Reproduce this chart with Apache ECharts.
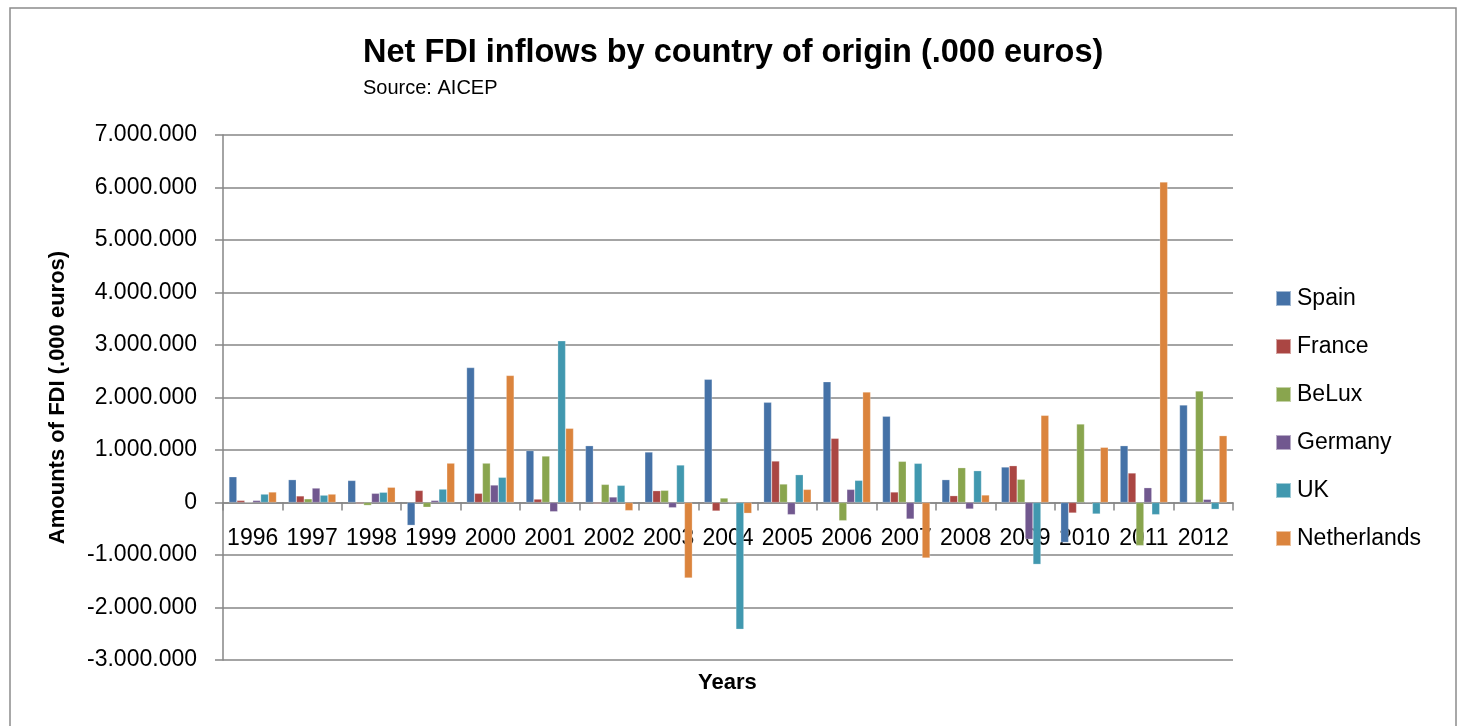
<!DOCTYPE html>
<html>
<head>
<meta charset="utf-8">
<script src="https://cdn.jsdelivr.net/npm/echarts@6/dist/echarts.min.js"></script>
<style>
html,body{margin:0;padding:0;background:#fff;}
#chart{width:1466px;height:726px;}
</style>
</head>
<body>
<div id="chart"></div>
<script>
var years = ['1996','1997','1998','1999','2000','2001','2002','2003','2004','2005','2006','2007','2008','2009','2010','2011','2012'];
var spain = [490000, 435000, 420000, -435000, 2570000, 990000, 1082000, 962000, 2347000, 1908000, 2300000, 1642000, 435000, 676000, -760000, 1082000, 1857000];
var france = [40000, 125000, -20000, 230000, 175000, 65000, -20000, 225000, -162000, 790000, 1222000, 200000, 130000, 701000, -200000, 562000, 0];
var belux = [0, 70000, -55000, -90000, 750000, 885000, 345000, 232000, 85000, 352000, -347000, 784000, 663000, 442000, 1495000, -822000, 2124000];
var germany = [40000, 275000, 175000, 40000, 333000, -175000, 105000, -100000, -10000, -232000, 250000, -315000, -124000, -700000, 10000, 282000, 60000];
var uk = [160000, 140000, 195000, 255000, 480000, 3080000, 327000, 714000, -2415000, 530000, 422000, 746000, 606000, -1178000, -219000, -232000, -130000];
var netherlands = [200000, 160000, 290000, 750000, 2420000, 1413000, -155000, -1438000, -206000, 250000, 2105000, -1057000, 143000, 1660000, 1051000, 6105000, 1273000];

var seriesNames = ['Spain','France','BeLux','Germany','UK','Netherlands'];
var seriesData = [spain, france, belux, germany, uk, netherlands];
var colors = ['#4572A7','#AA4643','#89A54E','#71588F','#4198AF','#DB843D'];

function fmt(v){
  var neg = v < 0; var s = String(Math.abs(v));
  s = s.replace(/\B(?=(\d{3})+(?!\d))/g, '.');
  return (neg ? '-' : '') + s;
}

var FONT = '"Liberation Sans", Arial, sans-serif';
var chart = echarts.init(document.getElementById('chart'));
chart.setOption({
  animation: false,
  backgroundColor: '#fff',
  color: colors,
  textStyle: {fontFamily: FONT},
  title: {
    text: 'Net FDI inflows by country of origin (.000 euros)',
    subtext: 'Source: AICEP',
    left: 358, top: 32, itemGap: 8,
    textStyle: {fontFamily: FONT, fontSize: 32.5, fontWeight: 'bold', color: '#000'},
    subtextStyle: {fontFamily: FONT, fontSize: 20, color: '#000'}
  },
  graphic: [{
    type: 'rect', shape: {x: 10, y: 8, width: 1446, height: 740},
    style: {fill: 'none', stroke: '#8c8c8c', lineWidth: 1.5}, silent: true, z: 0
  }, {
    type: 'text', left: 698, top: 672,
    style: {text: 'Years', font: 'bold 22px "Liberation Sans", Arial, sans-serif', fill: '#000'},
    silent: true
  }],
  legend: {
    orient: 'vertical', left: 1275, top: 287, padding: 0,
    itemWidth: 15, itemHeight: 15, itemGap: 25,
    icon: 'rect',
    textStyle: {fontFamily: FONT, fontSize: 23, color: '#000', padding: [0,0,0,1]},
    data: seriesNames
  },
  grid: {left: 223, right: 233, top: 135, bottom: 66, containLabel: false, outerBoundsMode: 'none'},
  xAxis: {
    type: 'category', data: years, z: 0,
    axisLine: {onZero: true, lineStyle: {color: '#868686', width: 1.5}},
    axisTick: {show: true, length: 8, lineStyle: {color: '#868686', width: 1.5}},
    axisLabel: {fontFamily: FONT, fontSize: 23, color: '#000', margin: -133, interval: 0}
  },
  yAxis: {
    type: 'value', min: -3000000, max: 7000000, interval: 1000000,
    name: 'Amounts of FDI (.000 euros)', nameLocation: 'middle', nameGap: 154, nameRotate: 90,
    nameTextStyle: {fontFamily: FONT, fontSize: 22, fontWeight: 'bold', color: '#000'},
    axisLine: {show: true, lineStyle: {color: '#868686', width: 1.5}},
    axisTick: {show: true, length: 8, lineStyle: {color: '#868686', width: 1.5}},
    axisLabel: {fontFamily: FONT, fontSize: 23, color: '#000', margin: 26, formatter: fmt},
    splitLine: {show: true, lineStyle: {color: '#868686', width: 1.5}}
  },
  series: seriesNames.map(function(n, i){
    return {
      name: n, type: 'bar', data: seriesData[i], z: 5,
      barGap: '0%', barCategoryGap: '20%',
      itemStyle: {color: colors[i], borderColor: 'rgba(255,255,255,0.5)', borderWidth: 0.5}
    };
  })
});
</script>
</body>
</html>
